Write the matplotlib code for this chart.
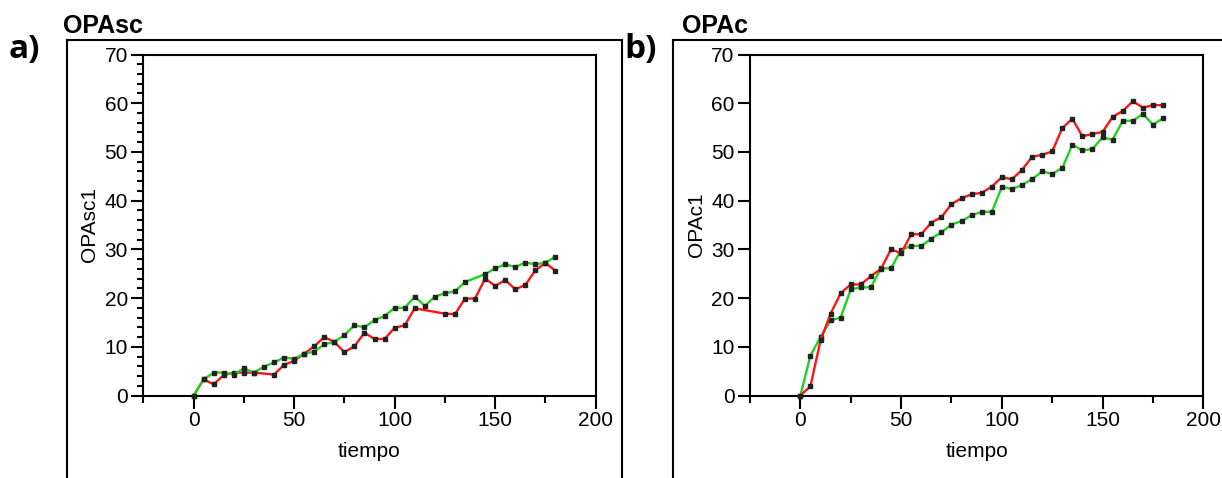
import numpy as np
import matplotlib
matplotlib.use("Agg")
import matplotlib.pyplot as plt
from matplotlib.lines import Line2D
from matplotlib.ticker import MultipleLocator

plt.rcParams['font.family'] = ['Liberation Sans', 'DejaVu Sans']

# --- datos ---
t_full = list(range(0, 185, 5))

# a) OPAsc
t_a_green = list(range(0, 140, 5)) + list(range(145, 185, 5))
opasc_green = [0, 3.3, 4.7, 4.7, 4.3, 5.6, 4.7, 5.9, 6.8, 7.8,
               7.5, 8.6, 9.0, 10.5, 11.0, 12.4, 14.4, 14.0, 15.5, 16.3,
               18.0, 18.0, 20.3, 18.4, 20.3, 21.0, 21.4, 23.3,
               24.9, 26.1, 26.9, 26.4, 27.3, 26.9, 27.3, 28.5]
t_a_red = [0, 5, 10, 15, 20, 25, 30] + list(range(40, 115, 5)) + list(range(125, 185, 5))
opasc_red = [0, 3.3, 2.3, 4.2, 4.7, 4.7, 4.7,
             4.3, 6.3, 7.1, 8.6, 10.1, 12.0, 11.0, 8.9, 10.1, 12.9, 11.6, 11.6, 13.9, 14.4, 17.9,
             16.8, 16.7, 19.9, 19.9, 24.0, 22.5, 23.7, 21.8, 22.7, 25.7, 27.2, 25.6]

# b) OPAc
opac_green = [0, 8.2, 12.0, 15.4, 16.0, 21.8, 22.2, 22.2, 26.1, 26.1,
              29.9, 30.7, 30.7, 32.2, 33.5, 35.1, 35.8, 37.0, 37.7, 37.7,
              42.8, 42.4, 43.2, 44.4, 46.0, 45.5, 46.7, 51.5, 50.3, 50.6,
              53.0, 52.5, 56.4, 56.4, 57.8, 55.6, 56.9]
opac_red = [0, 1.9, 11.3, 16.8, 21.0, 22.8, 22.8, 24.5, 26.0, 30.0,
            29.2, 33.1, 33.1, 35.5, 36.6, 39.3, 40.5, 41.3, 41.6, 42.9,
            44.8, 44.4, 46.3, 49.0, 49.4, 50.1, 54.9, 56.8, 53.2, 53.7,
            54.1, 57.2, 58.4, 60.4, 59.1, 59.6, 59.6]

x_major = [0, 50, 100, 150, 200]
y_major = [0, 10, 20, 30, 40, 50, 60, 70]

RED = '#ff1414'
GREEN = '#1ed21e'

W, H = 1222, 478
fig = plt.figure(figsize=(W / 100, H / 100), dpi=100)


def style_axes(ax, ylabel, minor_y):
    ax.set_xlim(-25, 200)
    ax.set_ylim(0, 70)
    ax.set_xticks(x_major)
    ax.xaxis.set_minor_locator(MultipleLocator(25))
    ax.set_yticks(y_major)
    if minor_y:
        ax.yaxis.set_minor_locator(MultipleLocator(2))
    ax.tick_params(axis='both', which='major', direction='out', length=9,
                   width=1.5, labelsize=15, pad=2)
    ax.tick_params(axis='x', which='minor', direction='out', length=5, width=1.5)
    ax.tick_params(axis='y', which='minor', direction='out', length=4.5, width=1.5)
    for s in ax.spines.values():
        s.set_linewidth(1.5)
    ax.set_xlabel('tiempo', fontsize=15, labelpad=9)
    ax.set_ylabel(ylabel, fontsize=15, labelpad=4)


def draw_series(ax, x, y, color):
    ax.plot(x, y, color=color, lw=1.7, marker='s', ms=2.2,
            mfc='#222222', mec='#222222', clip_on=False, zorder=3)


# panel a
ax1 = fig.add_axes([143.3 / W, 1 - 395.5 / H, (595.7 - 143.3) / W, (395.5 - 54.5) / H])
draw_series(ax1, t_a_red, opasc_red, RED)
draw_series(ax1, t_a_green, opasc_green, GREEN)
style_axes(ax1, 'OPAsc1', True)

# panel b
ax2 = fig.add_axes([750 / W, 1 - 395.5 / H, (1203.3 - 750) / W, (395.5 - 54.5) / H])
draw_series(ax2, t_full, opac_green, GREEN)
draw_series(ax2, t_full, opac_red, RED)
style_axes(ax2, 'OPAc1', False)

# marcos exteriores
top = 1 - 40 / H
for xs, ys in [([66.7 / W, 66.7 / W], [0, top]),
               ([66.7 / W, 621.7 / W], [top, top]),
               ([621.7 / W, 621.7 / W], [0, top]),
               ([672.7 / W, 672.7 / W], [0, top]),
               ([672.7 / W, 1.0], [top, top])]:
    fig.add_artist(Line2D(xs, ys, transform=fig.transFigure, color='black', lw=1.5))

# titulos y letras
fig.text(63 / W, 1 - 33 / H, 'OPAsc', fontsize=18, fontweight='bold', va='baseline')
fig.text(682 / W, 1 - 33 / H, 'OPAc', fontsize=18, fontweight='bold', va='baseline')
fig.text(9 / W, 1 - 58 / H, 'a)', fontsize=24, fontweight='bold', va='baseline',
         family=['Open Sans', 'DejaVu Sans'])
fig.text(624 / W, 1 - 58 / H, 'b)', fontsize=24, fontweight='bold', va='baseline',
         family=['Open Sans', 'DejaVu Sans'])

fig.savefig('out.png', dpi=100)
